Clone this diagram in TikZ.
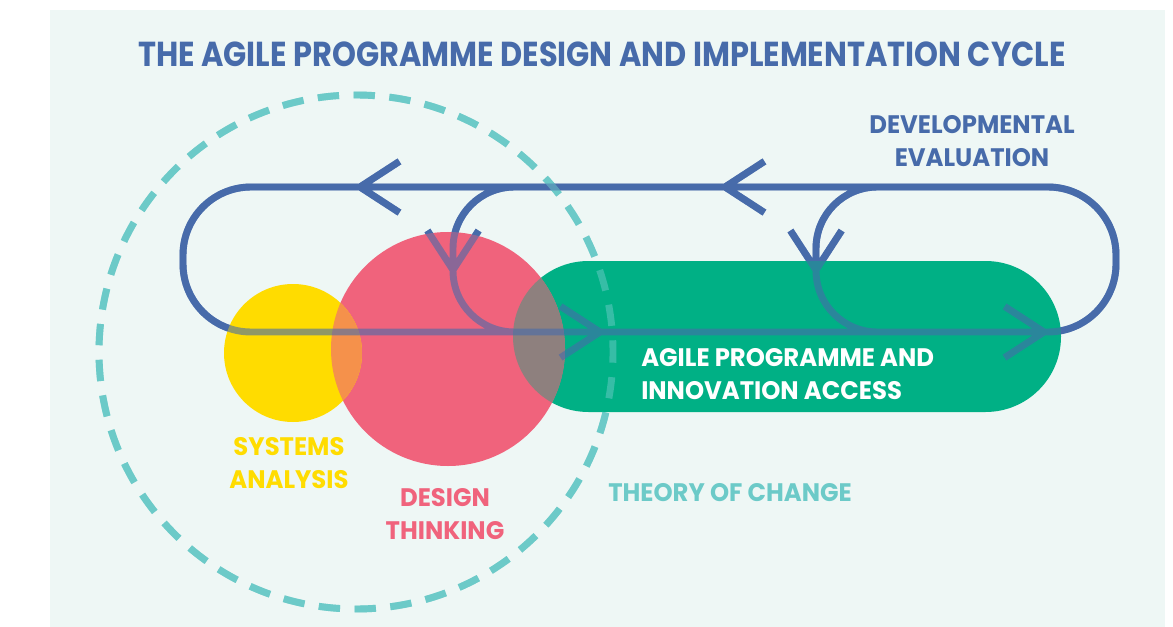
\documentclass[tikz,border=0pt]{standalone}
\usepackage{fontspec}
\setmainfont{Poppins}[FakeStretch=0.96]
\newfontfamily\titlefont{Poppins}[FakeStretch=0.878]
\definecolor{panel}{HTML}{EEF7F5}
\definecolor{cycleblue}{HTML}{476BAA}
\definecolor{sysyellow}{HTML}{FFDC00}
\definecolor{dtpink}{HTML}{F0637C}
\definecolor{agilegreen}{HTML}{00B085}
\definecolor{tocteal}{HTML}{6CCAC8}
\definecolor{sysdt}{HTML}{F5914B}
\definecolor{dtagile}{HTML}{8E807E}
\tikzset{
  loopline/.style={draw=cycleblue, line width=5.2pt, line join=miter},
  tocring/.style={draw=tocteal, line width=5.2pt, dash pattern=on 16pt off 10.9pt, dash phase=8pt},
  lbl/.style={inner sep=0pt, align=center, font=\bfseries\fontsize{19pt}{25pt}\selectfont}
}
\newcommand{\cycleloops}[1]{%
  \draw[loopline,#1] [rounded corners=51pt] (183,187) rectangle (1116,332)
    [rounded corners=46pt] (560,187) -- (453,187) -- (453,332) -- (560,332)
    (930,187) -- (816,187) -- (816,332) -- (930,332)
    [sharp corners] foreach \x/\y/\a in {360/187/0, 725/187/0, 453/270/270, 816/270/270, 600/332/180, 1044/332/180}
    { (\x,\y) ++(\a+33:47) -- (\x,\y) -- ++(\a-33:47) };
}
\begin{document}
\begin{tikzpicture}[x=0.75pt, y=-0.75pt]
\useasboundingbox (0,0) rectangle (1173,627);
\fill[panel] (50,10) rectangle (1165,627);
\draw[tocring] (356,352) circle[radius=257];
\cycleloops{}
\fill[agilegreen, rounded corners=56.6pt] (513,261) rectangle (1061,412);
\fill[dtpink] (448,349) circle[radius=117];
\fill[sysyellow] (293,353) circle[radius=69];
\begin{scope}
  \clip (293,353) circle[radius=69];
  \fill[sysdt] (448,349) circle[radius=117];
\end{scope}
\begin{scope}
  \clip (448,349) circle[radius=117];
  \fill[dtagile, rounded corners=56.6pt] (513,261) rectangle (1061,412);
\end{scope}
\cycleloops{opacity=0.6}
\draw[tocring, opacity=0.5] (356,352) circle[radius=257];
\node[lbl, cycleblue, anchor=north, font=\titlefont\bfseries\fontsize{26pt}{30pt}\selectfont] (title) at (602,42)
  {THE AGILE PROGRAMME DESIGN AND IMPLEMENTATION CYCLE};
\node[lbl, cycleblue, anchor=north] (deveval) at (972,115) {DEVELOPMENTAL\\EVALUATION};
\node[lbl, white, anchor=north west, align=left] (agile) at (641,348) {AGILE PROGRAMME AND\\INNOVATION ACCESS};
\node[lbl, sysyellow, anchor=north] (sys) at (289,437) {SYSTEMS\\ANALYSIS};
\node[lbl, dtpink, anchor=north] (dt) at (445,488) {DESIGN\\THINKING};
\node[lbl, tocteal, anchor=north west] (toc) at (608,483) {THEORY OF CHANGE};
\end{tikzpicture}
\end{document}
